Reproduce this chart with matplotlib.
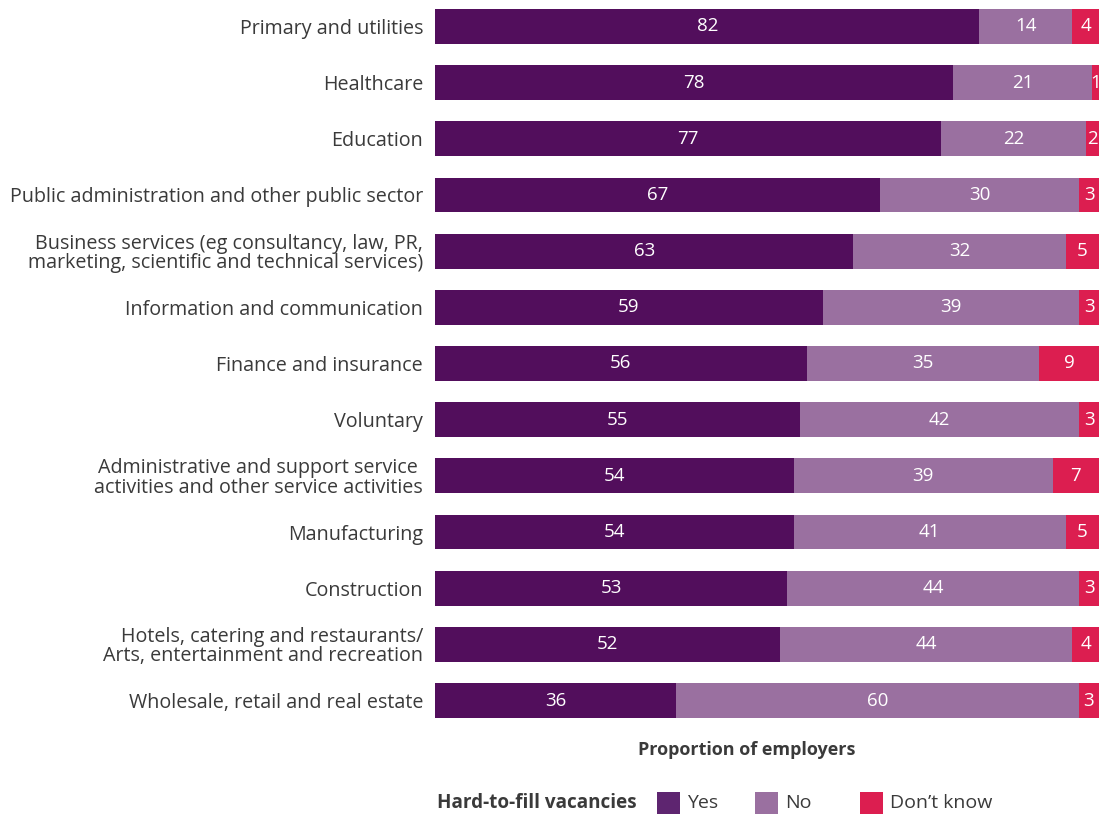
import matplotlib
matplotlib.use("Agg")
import matplotlib.pyplot as plt
from matplotlib.patches import Rectangle
import numpy as np

plt.rcParams['font.family'] = ['Open Sans', 'DejaVu Sans']

categories = [
    "Primary and utilities",
    "Healthcare",
    "Education",
    "Public administration and other public sector",
    "Business services (eg consultancy, law, PR,\nmarketing, scientific and technical services)",
    "Information and communication",
    "Finance and insurance",
    "Voluntary",
    "Administrative and support service \nactivities and other service activities",
    "Manufacturing",
    "Construction",
    "Hotels, catering and restaurants/\nArts, entertainment and recreation",
    "Wholesale, retail and real estate",
]
yes = [82, 78, 77, 67, 63, 59, 56, 55, 54, 54, 53, 52, 36]
no = [14, 21, 22, 30, 32, 39, 35, 42, 39, 41, 44, 44, 60]
dont_know = [4, 1, 2, 3, 5, 3, 9, 3, 7, 5, 3, 4, 3]
series_names = ["Yes", "No", "Don\u2019t know"]

colors = ["#520e5c", "#9a70a0", "#dc1e50"]
legend_colors = ["#5e2570", "#9a70a0", "#dc1e50"]
text_color = "#3a3a3a"

data = np.array([yes, no, dont_know], dtype=float)
totals = data.sum(axis=0)
shares = data / totals * 100

W, H = 1105, 815
fig = plt.figure(figsize=(W / 100, H / 100), dpi=100)
ax = fig.add_axes([435 / W, (H - 718) / H, 664 / W, 709 / H])

y = np.arange(len(categories))
bar_h = 0.62
left = np.zeros(len(categories))
for i, (vals, pct) in enumerate(zip(data, shares)):
    ax.barh(y, pct, left=left, height=bar_h, color=colors[i], edgecolor="none")
    for j in range(len(categories)):
        ax.text(left[j] + pct[j] / 2, y[j], f"{int(vals[j])}", ha="center", va="center",
                color="white", fontsize=13.5)
    left += pct

ax.set_xlim(0, 100)
ax.set_ylim(len(categories) - 1 + bar_h / 2, -bar_h / 2)
ax.set_yticks(y)
ax.set_yticklabels(categories, fontsize=14.2, color=text_color, linespacing=0.95)
ax.tick_params(axis="y", length=0, pad=8.5)
ax.set_xticks([])
for s in ax.spines.values():
    s.set_visible(False)

fig.text(747 / W, 1 - 750 / H, "Proportion of employers", ha="center", va="center",
         fontsize=13, fontweight="bold", color=text_color)

# Legend row: bold title followed by colour swatches and labels
leg_y = 1 - 803 / H
fig.text(437 / W, leg_y, "Hard-to-fill vacancies", ha="left", va="center",
         fontsize=13.6, fontweight="bold", color=text_color)
swatch_x = [657, 755, 860]
sw, sh = 23, 22
for name, c, sx in zip(series_names, legend_colors, swatch_x):
    fig.patches.append(Rectangle((sx / W, leg_y - sh / 2 / H), sw / W, sh / H,
                                 transform=fig.transFigure, facecolor=c, edgecolor="none"))
    fig.text((sx + sw + 7) / W, leg_y, name, ha="left", va="center",
             fontsize=14, color=text_color)

fig.savefig("out.png", dpi=100)
